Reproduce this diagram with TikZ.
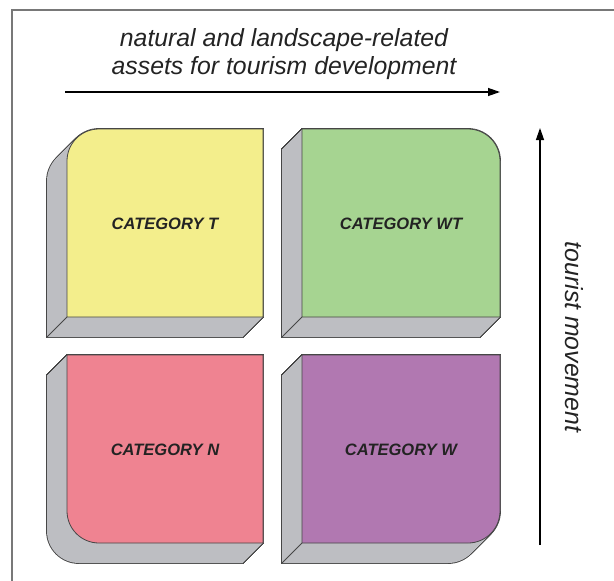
\documentclass[tikz,border=0pt]{standalone}
\usepackage{fontspec}
\setmainfont{Liberation Sans}
\usetikzlibrary{arrows.meta}
\definecolor{cyel}{RGB}{243,238,140}
\definecolor{cgrn}{RGB}{166,212,145}
\definecolor{cpnk}{RGB}{239,131,145}
\definecolor{cpur}{RGB}{177,120,177}
\definecolor{sidec}{RGB}{189,190,194}
\definecolor{edgec}{RGB}{70,70,70}
\definecolor{framec}{RGB}{120,120,120}
\definecolor{txtc}{RGB}{35,35,35}
% shapes: #1 L, #2 T, #3 R, #4 B, #5 options
\newcommand\rTL[5]{\path[#5] (#1,#2+32) .. controls (#1,#2+14.3) and (#1+14.3,#2) .. (#1+32,#2) -- (#3,#2) -- (#3,#4) -- (#1,#4) -- cycle;}
\newcommand\rTR[5]{\path[#5] (#1,#2) -- (#3-32,#2) .. controls (#3-14.3,#2) and (#3,#2+14.3) .. (#3,#2+32) -- (#3,#4) -- (#1,#4) -- cycle;}
\newcommand\rBL[5]{\path[#5] (#1,#2) -- (#3,#2) -- (#3,#4) -- (#1+32,#4) .. controls (#1+14.3,#4) and (#1,#4-14.3) .. (#1,#4-32) -- cycle;}
\newcommand\rBR[5]{\path[#5] (#1,#2) -- (#3,#2) -- (#3,#4-32) .. controls (#3,#4-14.3) and (#3-14.3,#4) .. (#3-32,#4) -- (#1,#4) -- cycle;}
\newcommand\catbox[6]{%
  \foreach \t in {0,...,20}{#1{#2}{#3}{#4}{#5}{draw=edgec,line width=1.8pt,shift={(-\t,\t)}}}%
  \foreach \t in {0,...,20}{#1{#2}{#3}{#4}{#5}{fill=sidec,shift={(-\t,\t)}}}%
}
\newcommand\catfront[6]{#1{#2}{#3}{#4}{#5}{fill=#6,draw=edgec,line width=0.8pt}}
\begin{document}
\begin{tikzpicture}[x=1pt,y=-1pt,
  catlabel/.style={text=txtc,font=\fontsize{16.5}{19}\selectfont\bfseries\itshape},
  axislabel/.style={text=txtc,font=\fontsize{24.8}{28}\selectfont\itshape,align=center},
  axisarrow/.style={draw=black,line width=1.3pt,-{Triangle[length=12pt,width=8pt]}},
  inneredge/.style={draw=edgec,line width=0.8pt}]
\useasboundingbox (0,0) rectangle (614,581);
\fill[white] (0,0) rectangle (614,581);
% frame
\draw[framec,line width=1.6pt] (12,581) -- (12,10) -- (614,10);
% boxes: sides
\catbox{\rTL}{67}{129}{263}{317}{cyel}
\catbox{\rTR}{302}{129}{500}{317}{cgrn}
\catbox{\rBL}{67}{355}{263}{543}{cpnk}
\catbox{\rBR}{302}{355}{500}{543}{cpur}
% inner edges
\coordinate (tA) at (67,317); \coordinate (tB) at (47,337);
\coordinate (wtA) at (302,317); \coordinate (wtB) at (282,337);
\coordinate (wA) at (302,543); \coordinate (wB) at (282,563);
\draw[inneredge] (tA) -- (tB);
\draw[inneredge] (wtA) -- (wtB);
\draw[inneredge] (wA) -- (wB);
% fronts
\catfront{\rTL}{67}{129}{263}{317}{cyel}
\catfront{\rTR}{302}{129}{500}{317}{cgrn}
\catfront{\rBL}{67}{355}{263}{543}{cpnk}
\catfront{\rBR}{302}{355}{500}{543}{cpur}
% labels
\node[catlabel] (catT) at (165,224) {CATEGORY T};
\node[catlabel] (catWT) at (401,224) {CATEGORY WT};
\node[catlabel] (catN) at (165,450) {CATEGORY N};
\node[catlabel] (catW) at (401,450) {CATEGORY W};
% axes
\node[axislabel] (htext) at (284,54) {natural and landscape-related\\assets for tourism development};
\coordinate (h1) at (65,92);
\coordinate (h2) at (500,92);
\draw[axisarrow] (h1) -- (h2);
\node[axislabel,rotate=-90] (vtext) at (574,337) {tourist movement};
\coordinate (v1) at (540,545);
\coordinate (v2) at (540,128);
\draw[axisarrow] (v1) -- (v2);
\end{tikzpicture}
\end{document}
